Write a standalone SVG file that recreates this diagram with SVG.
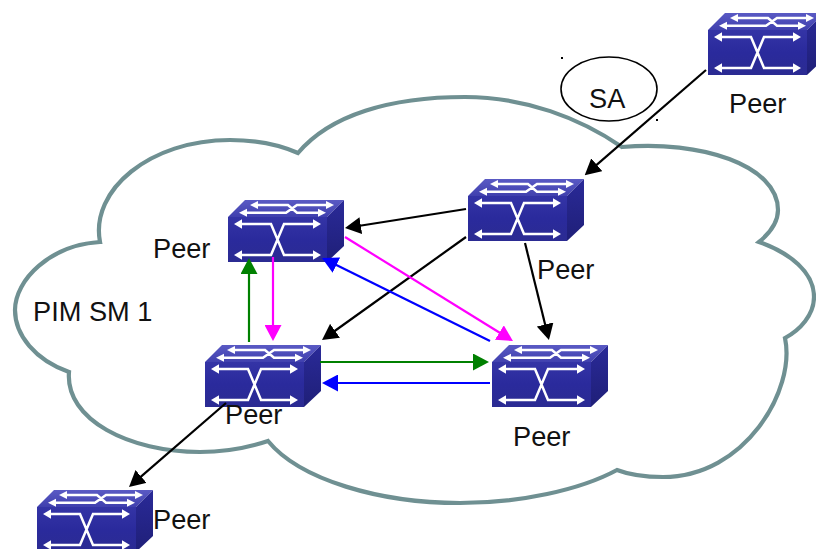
<svg xmlns="http://www.w3.org/2000/svg" xmlns:xlink="http://www.w3.org/1999/xlink" width="816" height="549" viewBox="0 0 816 549">
<style>
text{font-family:"Liberation Sans",Arial,sans-serif;font-size:27.2px;fill:#111}
.c{fill:none;stroke-width:2.2}
.k{stroke:#000;marker-end:url(#ak)}
.m{stroke:#f0f;marker-end:url(#am)}
.b{stroke:#00f;marker-end:url(#ab)}
.g{stroke:#008000;marker-end:url(#ag)}
.w{fill:none;stroke:#fff;stroke-width:2.5}
.h{fill:#fff}
</style>
<defs>
<marker id="ak" markerUnits="userSpaceOnUse" markerWidth="16" markerHeight="17" refX="9" refY="8.5" orient="auto"><path d="M0,0L16,8.5L0,17Z" fill="#000"/></marker>
<marker id="am" markerUnits="userSpaceOnUse" markerWidth="16" markerHeight="17" refX="9" refY="8.5" orient="auto"><path d="M0,0L16,8.5L0,17Z" fill="#f0f"/></marker>
<marker id="ab" markerUnits="userSpaceOnUse" markerWidth="16" markerHeight="17" refX="9" refY="8.5" orient="auto"><path d="M0,0L16,8.5L0,17Z" fill="#00f"/></marker>
<marker id="ag" markerUnits="userSpaceOnUse" markerWidth="16" markerHeight="17" refX="9" refY="8.5" orient="auto"><path d="M0,0L16,8.5L0,17Z" fill="#008000"/></marker>
<linearGradient id="ft" x1="0" y1="0" x2="0" y2="1"><stop offset="0" stop-color="#3434a6"/><stop offset=".5" stop-color="#2a2a9c"/><stop offset="1" stop-color="#2b2b92"/></linearGradient>
<linearGradient id="tp" x1="0" y1="0" x2="0" y2="1"><stop offset="0" stop-color="#5a5ac4"/><stop offset="1" stop-color="#4040ae"/></linearGradient>
<linearGradient id="sd" x1="0" y1="0" x2="0" y2="1"><stop offset="0" stop-color="#2a2a98"/><stop offset="1" stop-color="#1f1f78"/></linearGradient>
<g id="sw">
<path d="M0,17L17,0H116L99,17Z" fill="url(#tp)"/>
<rect x="0" y="17" width="99" height="45" fill="url(#ft)"/>
<path d="M99,17L116,0V46L99,62Z" fill="url(#sd)"/>
<path class="w" d="M12,24H43L56,55H87M87,24H56L43,55H12"/>
<path class="h" d="M6,24L14,19.2V28.8ZM93,24L85,19.2V28.8ZM6,55L14,50.2V59.8ZM93,55L85,50.2V59.8Z"/>
<path class="w" d="M28,5H60L69,12.7H92M17,12.7H58L69,5H100"/>
<path class="h" d="M22,5L30,1V9ZM106,5L98,1V9ZM11,12.7L19,8.7V16.7ZM98,12.7L90,8.7V16.7Z"/>
</g>
</defs>
<rect width="816" height="549" fill="#fff"/>
<path id="cloud" fill="none" stroke="#6f9092" stroke-width="4.2" stroke-linejoin="miter" d="M100,242C90,190 150,140 230,140C255,140 280,145 298,153C330,115 390,97 465,97C525,97 580,118 622,147C700,140 778,165 778,210C778,222 770,233 759,242C790,253 814,272 814,297C814,315 800,330 785,338C796,390 745,477 663,477C645,477 630,475 617,470C580,490 520,503 460,503C380,503 300,480 268,441C250,447 225,452 200,452C130,452 65,420 69,372C35,360 15,335 15,310C15,280 50,245 100,242Z"/>
<g id="sa">
<ellipse cx="609" cy="89" rx="48" ry="32" fill="none" stroke="#000" stroke-width="1.6"/>
<text x="589" y="108">SA</text>
<rect x="561" y="57" width="2" height="2" fill="#000"/>
<rect x="656" y="119" width="2" height="2" fill="#000"/>
</g>
<text id="cloud-label" x="33" y="321">PIM SM 1</text>
<g id="peer-top"><use xlink:href="#sw" href="#sw" transform="translate(708,13)"/><text x="729" y="113">Peer</text></g>
<g id="peer-center"><use xlink:href="#sw" href="#sw" transform="translate(468,179)"/><text x="537" y="279">Peer</text></g>
<g id="peer-left"><use xlink:href="#sw" href="#sw" transform="translate(228,200)"/><text x="153" y="258">Peer</text></g>
<g id="peer-lower-left"><use xlink:href="#sw" href="#sw" transform="translate(205,345)"/><text x="225" y="424">Peer</text></g>
<g id="peer-right"><use xlink:href="#sw" href="#sw" transform="translate(492,345)"/><text x="513" y="446">Peer</text></g>
<g id="peer-bottom"><use xlink:href="#sw" href="#sw" transform="translate(37,490)"/><text x="153" y="529">Peer</text></g>
<g id="connectors">
<path class="c k" d="M706,70L590,170.7"/>
<path class="c k" d="M466,209L351.9,227"/>
<path class="c k" d="M466,237L327.7,336"/>
<path class="c k" d="M525,243L547.3,333.2"/>
<path class="c k" d="M226,403L134.3,482.4"/>
<path class="c m" d="M345,237L507,337.3"/>
<path class="c b" d="M490,341L328.3,261.1"/>
<path class="c g" d="M249,342V265"/>
<path class="c m" d="M273,257V334"/>
<path class="c g" d="M320,362H482"/>
<path class="c b" d="M490,383H329"/>
</g>
</svg>
